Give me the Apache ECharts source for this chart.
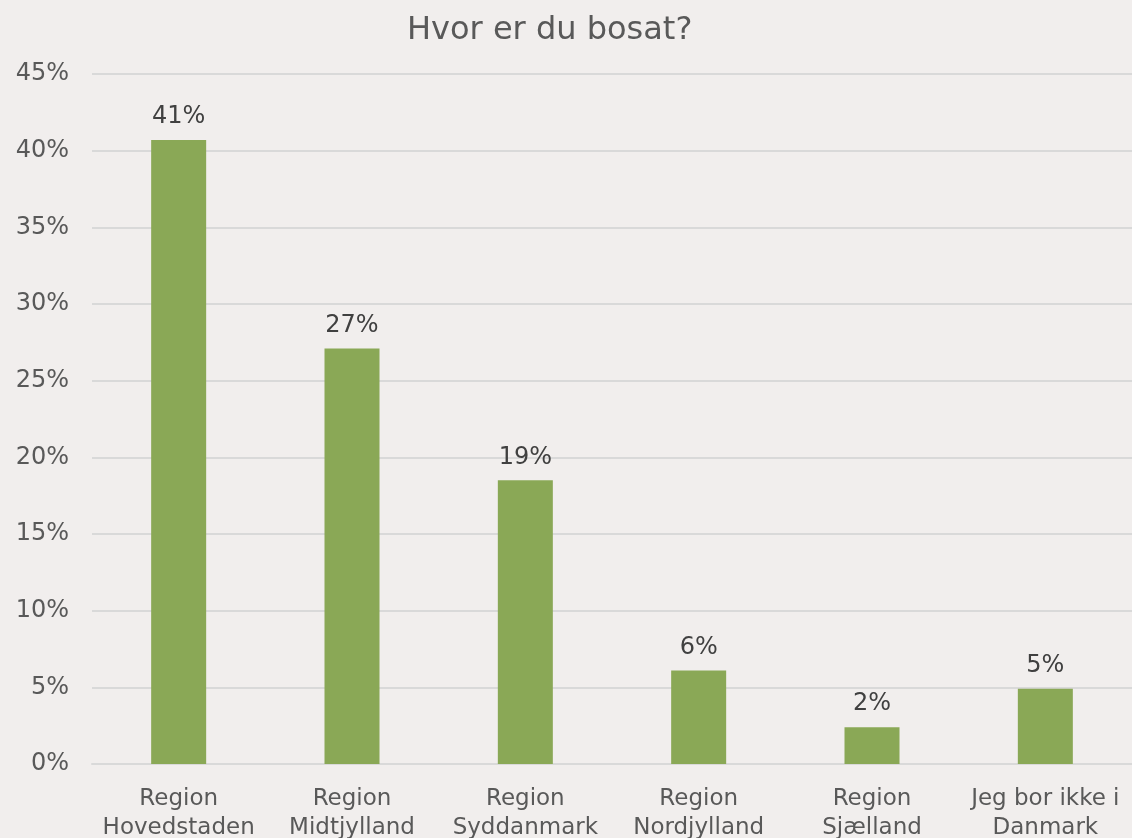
<!DOCTYPE html>
<html>
<head>
  <meta charset="utf-8">
  <title>Hvor er du bosat?</title>
  <script src="https://cdn.jsdelivr.net/npm/echarts@6/dist/echarts.min.js"></script>
  <style>
    html, body { margin: 0; padding: 0; background: #f1eeed; }
    #chart { width: 1132px; height: 838px; }
  </style>
</head>
<body>
  <div id="chart"></div>
  <script>
    var categories = ['Region\nHovedstaden', 'Region\nMidtjylland', 'Region\nSyddanmark',
                      'Region\nNordjylland', 'Region\nSjælland', 'Jeg bor ikke i\nDanmark'];
    var shares = [40.7, 27.1, 18.5, 6.1, 2.4, 4.9];
    var yTicks = [0, 5, 10, 15, 20, 25, 30, 35, 40, 45];

    var font = 'Verdana, "DejaVu Sans", sans-serif';
    var chart = echarts.init(document.getElementById('chart'));

    chart.setOption({
      backgroundColor: '#f1eeed',
      animation: false,
      title: {
        text: 'Hvor er du bosat?',
        left: 402,
        top: 10,
        textStyle: { fontFamily: font, fontSize: 32, fontWeight: 'normal', color: '#595959' }
      },
      grid: { left: 92, right: 0, top: 74, bottom: 74, outerBoundsMode: 'none' },
      xAxis: {
        type: 'category',
        data: categories,
        axisLine: { lineStyle: { color: '#d9d9d9', width: 2 } },
        axisTick: { show: false },
        axisLabel: {
          interval: 0,
          margin: 21,
          fontFamily: font,
          fontSize: 23,
          lineHeight: 29,
          color: '#595959'
        }
      },
      yAxis: {
        type: 'value',
        min: yTicks[0],
        max: yTicks[yTicks.length - 1],
        interval: 5,
        axisLine: { show: false },
        axisTick: { show: false },
        splitLine: { lineStyle: { color: '#d9d9d9', width: 2 } },
        axisLabel: {
          margin: 23,
          fontFamily: font,
          fontSize: 24,
          color: '#595959',
          formatter: '{value}%'
        }
      },
      series: [{
        type: 'bar',
        data: shares,
        barWidth: 55,
        itemStyle: { color: '#8aa856' },
        label: {
          show: true,
          position: 'top',
          distance: 11,
          fontFamily: font,
          fontSize: 24,
          color: '#404040',
          formatter: function (p) { return Math.round(p.value) + '%'; }
        }
      }]
    });
  </script>
</body>
</html>
